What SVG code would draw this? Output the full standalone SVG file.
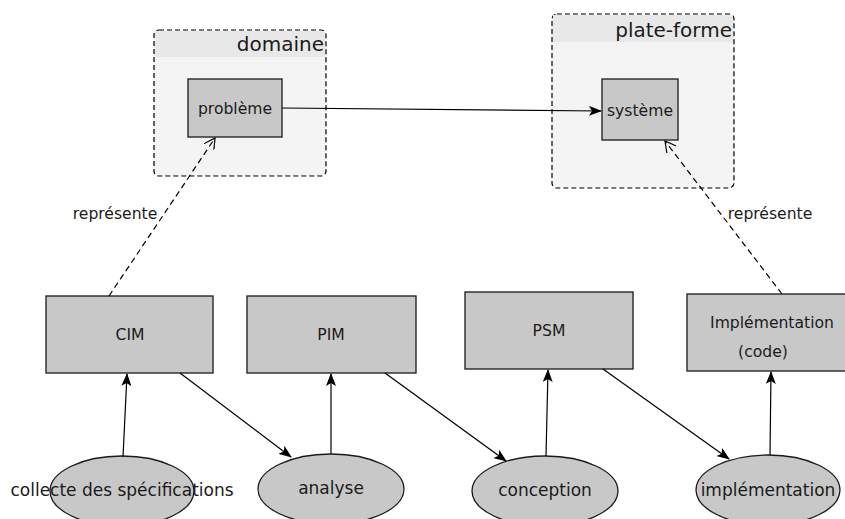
<svg xmlns="http://www.w3.org/2000/svg" width="845" height="519" viewBox="0 0 845 519">
<style>
text{font-family:"DejaVu Sans","Liberation Sans",sans-serif;fill:#1a1a1a}
.cont{fill:#f4f4f4;stroke:#000;stroke-width:1.2;stroke-dasharray:5,3}
.hdr{fill:#e8e8e8;stroke:none}
.box{fill:#c8c8c8;stroke:#1a1a1a;stroke-width:1.3}
.ell{fill:#c8c8c8;stroke:#1a1a1a;stroke-width:1.3}
.lbl{font-size:15.6px;text-anchor:middle}
.big{font-size:20px;text-anchor:end}
.el{font-size:17px;text-anchor:middle}
.c{fill:none;stroke:#000;stroke-width:1.2}
.d{fill:none;stroke:#000;stroke-width:1.2;stroke-dasharray:6,4}
</style>
<defs>
<marker id="fa" viewBox="0 0 13 10" refX="12" refY="5" markerWidth="13" markerHeight="10" markerUnits="userSpaceOnUse" orient="auto">
<path d="M0,0 L13,5 L0,10 L3,5 Z" fill="#000"/>
</marker>
<marker id="oa" viewBox="0 0 12 12" refX="11" refY="6" markerWidth="12" markerHeight="12" markerUnits="userSpaceOnUse" orient="auto">
<path d="M0,0 L11,6 L0,12" fill="none" stroke="#000" stroke-width="1.2"/>
</marker>
</defs>
<g id="domaine">
<rect class="cont" x="154" y="30" width="172" height="146" rx="5"/>
<rect class="hdr" x="155" y="31" width="170" height="26"/>
<text class="big" x="324" y="51">domaine</text>
</g>
<g id="plateforme">
<rect class="cont" x="552" y="14" width="182" height="174" rx="5"/>
<rect class="hdr" x="553" y="15" width="180" height="27"/>
<text class="big" x="732" y="37">plate-forme</text>
</g>
<g id="probleme">
<rect class="box" x="188" y="79" width="94" height="58"/>
<text class="lbl" x="235" y="114">problème</text>
</g>
<g id="systeme">
<rect class="box" x="602" y="79" width="76" height="61"/>
<text class="lbl" x="640" y="116">système</text>
</g>
<g id="cim">
<rect class="box" x="46" y="296" width="167" height="77"/>
<text class="lbl" x="130" y="340">CIM</text>
</g>
<g id="pim">
<rect class="box" x="247" y="296" width="169" height="77"/>
<text class="lbl" x="331" y="340">PIM</text>
</g>
<g id="psm">
<rect class="box" x="465" y="292" width="168" height="77"/>
<text class="lbl" x="549" y="336">PSM</text>
</g>
<g id="implementation">
<rect class="box" x="687" y="294" width="160" height="77"/>
<text class="lbl" x="772" y="328">Implémentation</text>
<text class="lbl" x="763" y="357">(code)</text>
</g>
<g id="collecte">
<ellipse class="ell" cx="122" cy="491" rx="72" ry="35"/>
<text class="el" x="122" y="496">collecte des spécifications</text>
</g>
<g id="analyse">
<ellipse class="ell" cx="331" cy="489" rx="73" ry="35"/>
<text class="el" x="331" y="494">analyse</text>
</g>
<g id="conception">
<ellipse class="ell" cx="545" cy="491" rx="73" ry="35"/>
<text class="el" x="545" y="496">conception</text>
</g>
<g id="implementation2">
<ellipse class="ell" cx="768" cy="490" rx="72" ry="35"/>
<text class="el" x="768" y="496">implémentation</text>
</g>
<g id="connectors">
<line class="c" x1="282" y1="108" x2="601" y2="111" marker-end="url(#fa)"/>
<line class="c" x1="123" y1="457" x2="127" y2="374" marker-end="url(#fa)"/>
<line class="c" x1="180" y1="373" x2="291" y2="457" marker-end="url(#fa)"/>
<line class="c" x1="331" y1="454" x2="331" y2="374" marker-end="url(#fa)"/>
<line class="c" x1="385" y1="373" x2="506" y2="461" marker-end="url(#fa)"/>
<line class="c" x1="546" y1="456" x2="548" y2="370" marker-end="url(#fa)"/>
<line class="c" x1="603" y1="369" x2="729" y2="459" marker-end="url(#fa)"/>
<line class="c" x1="770" y1="455" x2="771" y2="372" marker-end="url(#fa)"/>
<line class="d" x1="109" y1="296" x2="215" y2="138" marker-end="url(#oa)"/>
<line class="d" x1="782" y1="294" x2="665" y2="141" marker-end="url(#oa)"/>
<text class="lbl" x="115" y="219">représente</text>
<text class="lbl" x="770" y="219">représente</text>
</g>
</svg>
